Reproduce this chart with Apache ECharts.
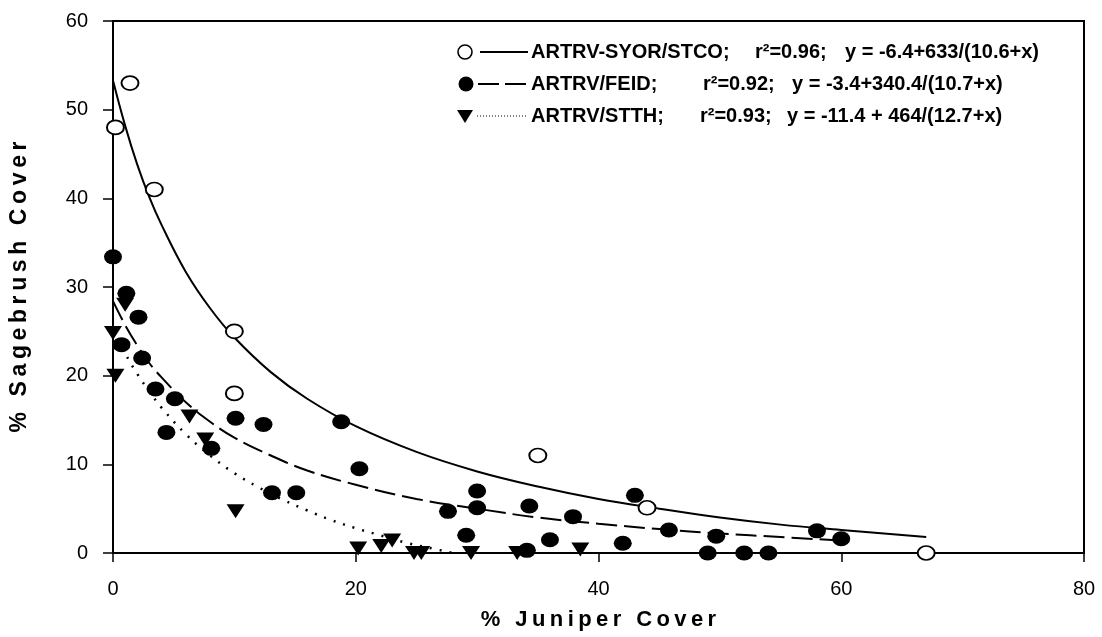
<!DOCTYPE html>
<html>
<head>
<meta charset="utf-8">
<script src="https://cdn.jsdelivr.net/npm/echarts@6/dist/echarts.min.js"></script>
<style>
    html, body {margin: 0; padding: 0; background: #fff;}
    #chart {width: 1102px; height: 637px;}
</style>
</head>
<body>
<div id="chart"></div>
<script>
// scatter points, [juniper %, sagebrush %]
var syorPoints = [[0.2, 48], [1.4, 53], [3.4, 41], [10, 25], [10, 18], [35, 11], [44, 5.1], [67, 0]];
var feidPoints = [[0, 33.4], [1.1, 29.3], [2.1, 26.6], [0.7, 23.5], [2.4, 22], [3.5, 18.5], [5.1, 17.4],
    [4.4, 13.6], [8.1, 11.8], [10.1, 15.2], [12.4, 14.5], [18.8, 14.8], [20.3, 9.5], [13.1, 6.8],
    [15.1, 6.8], [27.6, 4.7], [30, 7], [30, 5.1], [29.1, 2], [34.3, 5.3], [34.1, 0.3], [36, 1.5],
    [37.9, 4.1], [42, 1.1], [43, 6.5], [45.8, 2.6], [49.7, 1.9], [49, 0], [52, 0], [54, 0],
    [58, 2.5], [60, 1.6]];
var stthPoints = [[1, 28], [0, 24.8], [0.2, 20], [6.3, 15.4], [7.6, 12.8], [10.1, 4.7], [20.2, 0.5],
    [22.1, 0.8], [23, 1.4], [24.8, 0], [25.4, 0], [29.5, 0], [33.3, 0], [38.5, 0.4]];

// fitted curves
var syorCurve = [[0, 53.3], [1, 48.2], [2, 43.8], [3, 40.1], [4, 37], [6, 31.7], [8, 27.6], [10, 24.3],
    [13, 20.4], [16, 17.4], [20, 14.3], [25, 11.4], [30, 9.2], [35, 7.5], [40, 6.1], [45, 5],
    [50, 4], [55, 3.2], [60, 2.6], [67, 1.8]];
var feidCurve = [[0, 28.4], [1, 25.7], [2, 23.4], [3, 21.4], [4, 19.8], [6, 17], [8, 14.8], [10, 13],
    [13, 11], [16, 9.3], [20, 7.7], [25, 6.1], [30, 5], [35, 4], [40, 3.3], [45, 2.7], [50, 2.2],
    [55, 1.8], [60, 1.4]];
var stthCurve = [[0, 25.1], [1, 22.5], [2, 20.2], [3, 18.2], [4, 16.4], [6, 13.4], [8, 11], [10, 9],
    [12, 7.4], [14, 6], [16, 4.8], [18, 3.7], [20, 2.8], [22, 2], [24, 1.2], [26, 0.6], [28, 0]];

var xTicks = [0, 20, 40, 60, 80];
var yTicks = [0, 10, 20, 30, 40, 50, 60];

var legendRows = [
    {name: 'ARTRV-SYOR/STCO;', r2: 'r²=0.96;', eq: 'y = -6.4+633/(10.6+x)'},
    {name: 'ARTRV/FEID;', r2: 'r²=0.92;', eq: 'y = -3.4+340.4/(10.7+x)'},
    {name: 'ARTRV/STTH;', r2: 'r²=0.93;', eq: 'y = -11.4 + 464/(12.7+x)'}
];

var font = 'Liberation Sans, Arial, sans-serif';

// the original titles are letter-spaced
function spaced(s) {
    return s.split('').join('\u2009');
}

var chart = echarts.init(document.getElementById('chart'), null, {renderer: 'canvas'});

var legendY = [52, 84, 116];
var r2X = [755, 703, 700];
var eqX = [845, 792, 787];
var graphics = [
    {type: 'circle', shape: {cx: 465, cy: legendY[0], r: 7}, style: {fill: '#fff', stroke: '#000', lineWidth: 1.6}},
    {type: 'line', shape: {x1: 480, y1: legendY[0], x2: 528, y2: legendY[0]}, style: {stroke: '#000', lineWidth: 2}},
    {type: 'circle', shape: {cx: 466, cy: legendY[1], r: 7.5}, style: {fill: '#000'}},
    {type: 'line', shape: {x1: 478, y1: legendY[1], x2: 527, y2: legendY[1]}, style: {stroke: '#000', lineWidth: 2, lineDash: [21, 6]}},
    {type: 'polygon', shape: {points: [[457, legendY[2] - 6], [473, legendY[2] - 6], [465, legendY[2] + 7]]}, style: {fill: '#000'}},
    {type: 'line', shape: {x1: 477, y1: legendY[2], x2: 528, y2: legendY[2]}, style: {stroke: '#000', lineWidth: 1, lineDash: [1, 2]}}
];
legendRows.forEach(function (row, i) {
    var st = {fill: '#000', font: 'bold 20px ' + font, verticalAlign: 'middle'};
    graphics.push({type: 'text', x: 531, y: legendY[i], style: Object.assign({text: row.name}, st)});
    graphics.push({type: 'text', x: r2X[i], y: legendY[i], style: Object.assign({text: row.r2}, st)});
    graphics.push({type: 'text', x: eqX[i], y: legendY[i], style: Object.assign({text: row.eq}, st)});
});

var option = {
    backgroundColor: '#fff',
    animation: false,
    grid: {
        left: 113,
        right: 18,
        top: 21,
        bottom: 84,
        outerBoundsMode: 'none',
        show: true,
        borderColor: '#000',
        borderWidth: 2
    },
    xAxis: {
        type: 'value',
        min: xTicks[0],
        max: xTicks[xTicks.length - 1],
        interval: 20,
        name: spaced('% Juniper Cover'),
        nameLocation: 'middle',
        nameGap: 56,
        nameTextStyle: {fontFamily: font, fontWeight: 'bold', fontSize: 22, color: '#000'},
        axisLine: {lineStyle: {color: '#000', width: 2}},
        axisTick: {length: 9, lineStyle: {color: '#000', width: 1.5}},
        axisLabel: {fontFamily: font, fontSize: 20, color: '#000', margin: 26},
        splitLine: {show: false}
    },
    yAxis: {
        type: 'value',
        min: yTicks[0],
        max: yTicks[yTicks.length - 1],
        interval: 10,
        name: spaced('% Sagebrush Cover'),
        nameLocation: 'middle',
        nameGap: 82,
        nameRotate: 90,
        nameTextStyle: {fontFamily: font, fontWeight: 'bold', fontSize: 23, color: '#000'},
        axisLine: {lineStyle: {color: '#000', width: 2}},
        axisTick: {length: 10, lineStyle: {color: '#000', width: 1.5}},
        axisLabel: {fontFamily: font, fontSize: 20, color: '#000', margin: 25},
        splitLine: {show: false}
    },
    graphic: graphics,
    series: [
        {
            name: 'SYOR fit',
            type: 'line',
            data: syorCurve,
            smooth: 0.4,
            showSymbol: false,
            z: 1,
            lineStyle: {color: '#000', width: 2}
        },
        {
            name: 'FEID fit',
            type: 'line',
            data: feidCurve,
            smooth: 0.4,
            showSymbol: false,
            z: 1,
            lineStyle: {color: '#000', width: 2, type: [21, 7]}
        },
        {
            name: 'STTH fit',
            type: 'line',
            data: stthCurve,
            smooth: 0.4,
            showSymbol: false,
            z: 1,
            lineStyle: {color: '#000', width: 2.5, type: [2, 8]}
        },
        {
            name: 'ARTRV-SYOR/STCO',
            type: 'scatter',
            data: syorPoints,
            symbol: 'circle',
            symbolSize: [17, 14],
            clip: false,
            z: 3,
            itemStyle: {color: '#fff', borderColor: '#000', borderWidth: 1.8, opacity: 1}
        },
        {
            name: 'ARTRV/FEID',
            type: 'scatter',
            data: feidPoints,
            symbol: 'circle',
            symbolSize: [18, 15],
            clip: false,
            z: 3,
            itemStyle: {color: '#000', opacity: 1}
        },
        {
            name: 'ARTRV/STTH',
            type: 'scatter',
            data: stthPoints,
            symbol: 'triangle',
            symbolRotate: 180,
            symbolSize: [18, 14],
            clip: false,
            z: 3,
            itemStyle: {color: '#000', opacity: 1}
        }
    ]
};

chart.setOption(option);
</script>
</body>
</html>
